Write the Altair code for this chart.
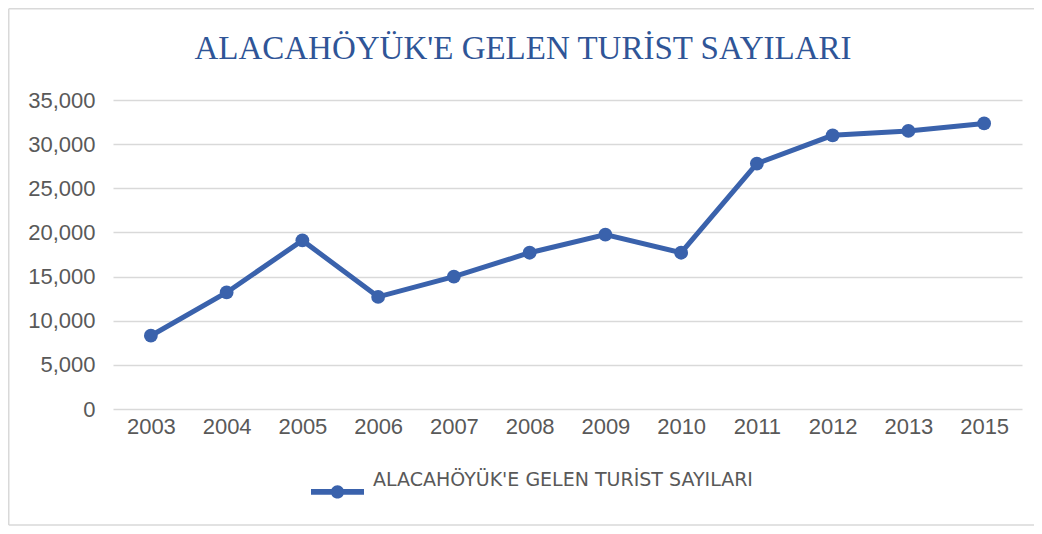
import altair as alt
import pandas as pd

years = ["2003", "2004", "2005", "2006", "2007", "2008", "2009", "2010", "2011", "2012", "2013", "2015"]
visitors = [8300, 13200, 19100, 12700, 15000, 17700, 19750, 17700, 27800, 31000, 31500, 32350]
series_name = "ALACAHÖYÜK'E GELEN TURİST SAYILARI"
chart_title = ["ALACAHÖYÜK'E GELEN TURİST SAYILARI"]
y_ticks = [0, 5000, 10000, 15000, 20000, 25000, 30000, 35000]

LINE = "#3A62AC"
GRID = "#D9D9D9"
TXT = "#595959"

df = pd.DataFrame({"year": years, "visitors": visitors, "series": [series_name] * len(years)})
tdf = pd.DataFrame({"t": chart_title})
bdf = pd.DataFrame({"b": [1]})

x_enc = alt.X("year:O", sort=years, scale=alt.Scale(type="point", padding=0.5),
              axis=alt.Axis(title=None, labelAngle=0, ticks=False, domain=False, grid=False,
                            labelFont="Liberation Sans", labelFontSize=22, labelColor=TXT,
                            labelPadding=7))
y_enc = alt.Y("visitors:Q", scale=alt.Scale(domain=[0, 35000], nice=False),
              axis=alt.Axis(title=None, values=y_ticks, format=",.0f", ticks=False, domain=False,
                            grid=True, gridColor=GRID, gridWidth=1.5,
                            labelFont="Liberation Sans", labelFontSize=22, labelColor=TXT,
                            labelPadding=18))

base = alt.Chart(df)

line = base.mark_line(color=LINE, strokeWidth=5).encode(x=x_enc, y=y_enc)

sym_path = ("M-1,0.36H1V0.58H-1Z "
            "M0.25,0.47A0.25,0.25,0,1,1,-0.25,0.47A0.25,0.25,0,1,1,0.25,0.47Z")

points = base.mark_point(filled=True, shape="circle", size=190, opacity=1).encode(
    x=x_enc, y=y_enc,
    color=alt.Color("series:N", scale=alt.Scale(range=[LINE]),
                    legend=alt.Legend(orient="none", legendX=198, legendY=353, title=None,
                                      symbolType=sym_path, symbolSize=2809,
                                      symbolStrokeWidth=0, symbolFillColor=LINE,
                                      labelFont="DejaVu Sans", labelFontSize=19,
                                      labelColor=TXT, labelOffset=9, labelLimit=0,
                                      padding=0))
)

title = alt.Chart(tdf).mark_text(font="Liberation Serif", fontSize=33, color="#2F5597",
                                 align="center", baseline="alphabetic").encode(
    text="t:N", x=alt.value(410), y=alt.value(-41))

bchart = alt.Chart(bdf)
border_left = bchart.mark_rule(color=GRID, strokeWidth=1.5).encode(
    x=alt.value(-104.25), y=alt.value(-91.25), y2=alt.value(425))
border_top = bchart.mark_rule(color=GRID, strokeWidth=1.5).encode(
    x=alt.value(-104.25), x2=alt.value(1100), y=alt.value(-91.25))
border_bottom = bchart.mark_rule(color=GRID, strokeWidth=1.5).encode(
    x=alt.value(-104.25), x2=alt.value(1100), y=alt.value(425))

chart = alt.layer(border_left, border_top, border_bottom, line, points, title).properties(
    width=909, height=309,
    autosize=alt.AutoSizeParams(type="none"),
    padding={"left": 105, "top": 92, "right": 12, "bottom": 117},
    background="white",
).configure_view(stroke=None)

chart.save("out.html", embed_options={"renderer": "svg", "actions": False})
